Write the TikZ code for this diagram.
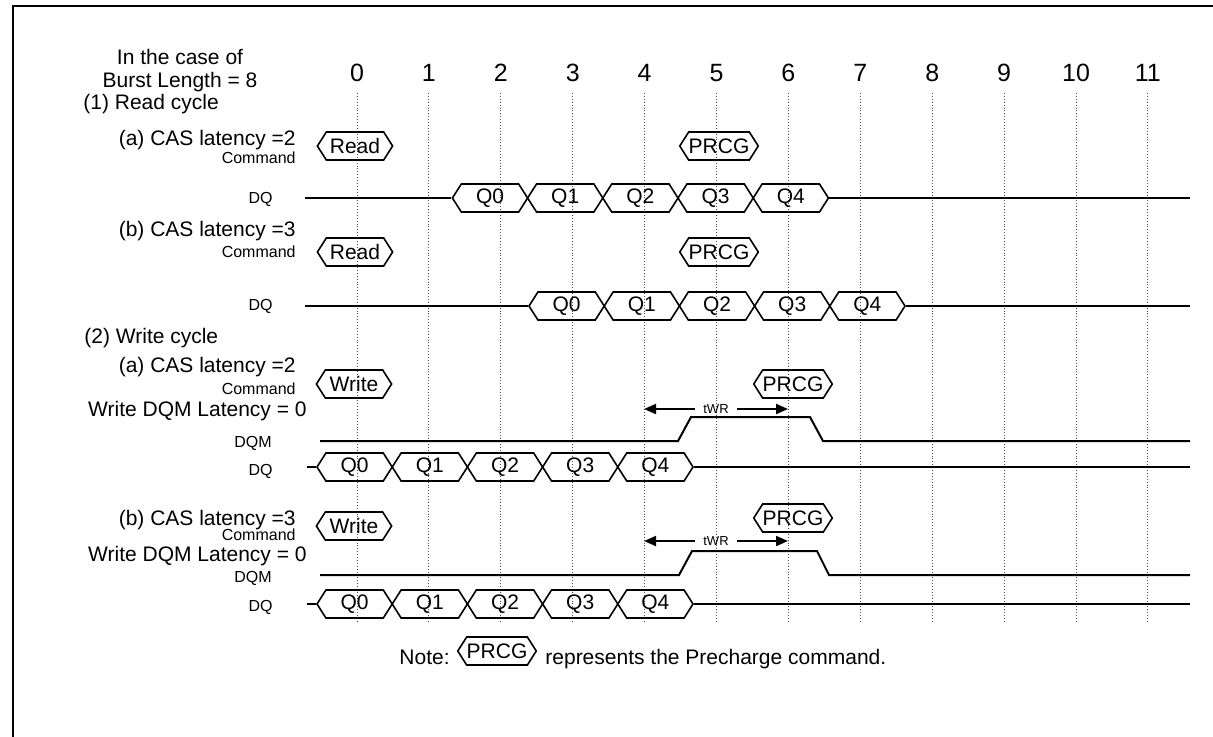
\documentclass[tikz,border=0pt]{standalone}
\usepackage{fontspec}
\setmainfont{Liberation Sans}
\usetikzlibrary{shapes.symbols,arrows.meta}
\begin{document}
\begin{tikzpicture}[x=0.5pt,y=-0.5pt]
		% définition des styles
		\tikzstyle{bus}=[signal,signal to=east and west,signal pointer angle=115,draw,line width=0.8pt,minimum width=37.6pt,minimum height=14pt,inner sep=0pt,font=\fontsize{10.5}{12}\selectfont]
		\tikzstyle{titre}=[inner sep=0pt,text height=7.5pt,text depth=0pt,font=\fontsize{10.5}{12}\selectfont]
		\tikzstyle{petit}=[inner sep=0pt,text height=5.8pt,text depth=0pt,font=\fontsize{8}{9}\selectfont,anchor=east]
		\tikzstyle{numero}=[inner sep=0pt,text height=9pt,text depth=0pt,font=\fontsize{12.5}{14}\selectfont]
		\tikzstyle{trace}=[line width=1pt]
		\tikzstyle{horloge}=[densely dotted,line width=0.45pt,black!70]
		\tikzstyle{duree}=[inner xsep=4pt,inner ysep=0pt,font=\fontsize{6.5}{8}\selectfont]
		\tikzstyle{fleche}=[-{Triangle[length=6pt,width=5pt]},line width=1pt]
		% le cadre
		\useasboundingbox (0,0) rectangle (1213,736);
		\draw[line width=1.2pt] (13,6) rectangle (1250,770);
		% les cycles d'horloge
		\node[numero] (t0) at (357,72) {0};
		\node[numero] (t1) at (428.9,72) {1};
		\node[numero] (t2) at (500.8,72) {2};
		\node[numero] (t3) at (572.7,72) {3};
		\node[numero] (t4) at (644.6,72) {4};
		\node[numero] (t5) at (716.5,72) {5};
		\node[numero] (t6) at (788.4,72) {6};
		\node[numero] (t7) at (860.3,72) {7};
		\node[numero] (t8) at (932.2,72) {8};
		\node[numero] (t9) at (1004.1,72) {9};
		\node[numero] (t10) at (1076,72) {10};
		\node[numero] (t11) at (1147.9,72) {11};
		\draw[horloge] (357,93) -- (357,622);
		\draw[horloge] (428.9,93) -- (428.9,622);
		\draw[horloge] (500.8,93) -- (500.8,622);
		\draw[horloge] (572.7,93) -- (572.7,622);
		\draw[horloge] (644.6,93) -- (644.6,622);
		\draw[horloge] (716.5,93) -- (716.5,622);
		\draw[horloge] (788.4,93) -- (788.4,622);
		\draw[horloge] (860.3,93) -- (860.3,622);
		\draw[horloge] (932.2,93) -- (932.2,622);
		\draw[horloge] (1004.1,93) -- (1004.1,622);
		\draw[horloge] (1076,93) -- (1076,622);
		\draw[horloge] (1147.9,93) -- (1147.9,622);
		% les titres
		\node[titre] (cas1) at (180,57) {In the case of};
		\node[titre] (cas2) at (180,80) {Burst Length = 8};
		% lecture, latence 2
		\node[titre,anchor=west] (lect) at (83,102) {(1) Read cycle};
		\node[titre,anchor=east] (lat2) at (296,138) {(a) CAS latency =2};
		\node[petit] (cmd1) at (296,158) {Command};
		\node[petit] (dq1) at (273,198) {DQ};
		\node[bus] (rd1) at (355,146) {Read};
		\node[bus] (pr1) at (719,146) {PRCG};
		\node[bus] (a0) at (490,198) {Q0};
		\node[bus] (a1) at (565.2,198) {Q1};
		\node[bus] (a2) at (640.4,198) {Q2};
		\node[bus] (a3) at (715.6,198) {Q3};
		\node[bus] (a4) at (790.8,198) {Q4};
		\coordinate (ad) at (305,198);
		\coordinate (af) at (1190,198);
		\draw[trace] (ad) -- (a0.west);
		\draw[trace] (a4.east) -- (af);
		% lecture, latence 3
		\node[titre,anchor=east] (lat3) at (296,229) {(b) CAS latency =3};
		\node[petit] (cmd2) at (296,252) {Command};
		\node[petit] (dq2) at (273,305) {DQ};
		\node[bus] (rd2) at (355,252) {Read};
		\node[bus] (pr2) at (719,252) {PRCG};
		\node[bus] (b0) at (566.6,306) {Q0};
		\node[bus] (b1) at (641.8,306) {Q1};
		\node[bus] (b2) at (717,306) {Q2};
		\node[bus] (b3) at (792.2,306) {Q3};
		\node[bus] (b4) at (867.4,306) {Q4};
		\coordinate (bd) at (305,306);
		\coordinate (bf) at (1190,306);
		\draw[trace] (bd) -- (b0.west);
		\draw[trace] (b4.east) -- (bf);
		% écriture, latence 2
		\node[titre,anchor=west] (ecr) at (84,336) {(2) Write cycle};
		\node[titre,anchor=east] (lat4) at (296,365) {(a) CAS latency =2};
		\node[petit] (cmd3) at (296,389) {Command};
		\node[titre,anchor=east] (dqml1) at (307,409) {Write DQM Latency = 0};
		\node[petit] (dqm1) at (272,442) {DQM};
		\node[petit] (dq3) at (273,470) {DQ};
		\node[bus] (wr1) at (354,384) {Write};
		\node[bus] (pr3) at (793,384) {PRCG};
		\draw[trace] (320,441) -- (678,441) -- (691,417) -- (810,417) -- (823,441) -- (1190,441);
		\node[duree] (twr1) at (716,409) {tWR};
		\coordinate (twr1g) at (644,409);
		\coordinate (twr1d) at (788,409);
		\draw[fleche] (twr1.west) -- (twr1g);
		\draw[fleche] (twr1.east) -- (twr1d);
		\node[bus] (c0) at (354.6,467) {Q0};
		\node[bus] (c1) at (429.8,467) {Q1};
		\node[bus] (c2) at (505,467) {Q2};
		\node[bus] (c3) at (580.2,467) {Q3};
		\node[bus] (c4) at (655.4,467) {Q4};
		\coordinate (cd) at (307,467);
		\coordinate (cf) at (1190,467);
		\draw[trace] (cd) -- (c0.west);
		\draw[trace] (c4.east) -- (cf);
		% écriture, latence 3
		\node[titre,anchor=east] (lat5) at (296,518) {(b) CAS latency =3};
		\node[petit] (cmd4) at (296,535) {Command};
		\node[titre,anchor=east] (dqml2) at (307,554) {Write DQM Latency = 0};
		\node[petit] (dqm2) at (272,577) {DQM};
		\node[petit] (dq4) at (273,606) {DQ};
		\node[bus] (wr2) at (354,526) {Write};
		\node[bus] (pr4) at (793,518) {PRCG};
		\draw[trace] (320,575) -- (679,575) -- (692,551) -- (817,551) -- (829,575) -- (1190,575);
		\node[duree] (twr2) at (716,541) {tWR};
		\coordinate (twr2g) at (644,541);
		\coordinate (twr2d) at (788,541);
		\draw[fleche] (twr2.west) -- (twr2g);
		\draw[fleche] (twr2.east) -- (twr2d);
		\node[bus] (d0) at (354.6,604) {Q0};
		\node[bus] (d1) at (429.8,604) {Q1};
		\node[bus] (d2) at (505,604) {Q2};
		\node[bus] (d3) at (580.2,604) {Q3};
		\node[bus] (d4) at (655.4,604) {Q4};
		\coordinate (dd) at (307,604);
		\coordinate (df) at (1190,604);
		\draw[trace] (dd) -- (d0.west);
		\draw[trace] (d4.east) -- (df);
		% la légende
		\node[bus] (npr) at (497,651) {PRCG};
		\node[titre,anchor=east] (note) at (450,657) {Note:};
		\node[titre,anchor=west] (repr) at (545,657) {represents the Precharge command.};
	\end{tikzpicture}
\end{document}
